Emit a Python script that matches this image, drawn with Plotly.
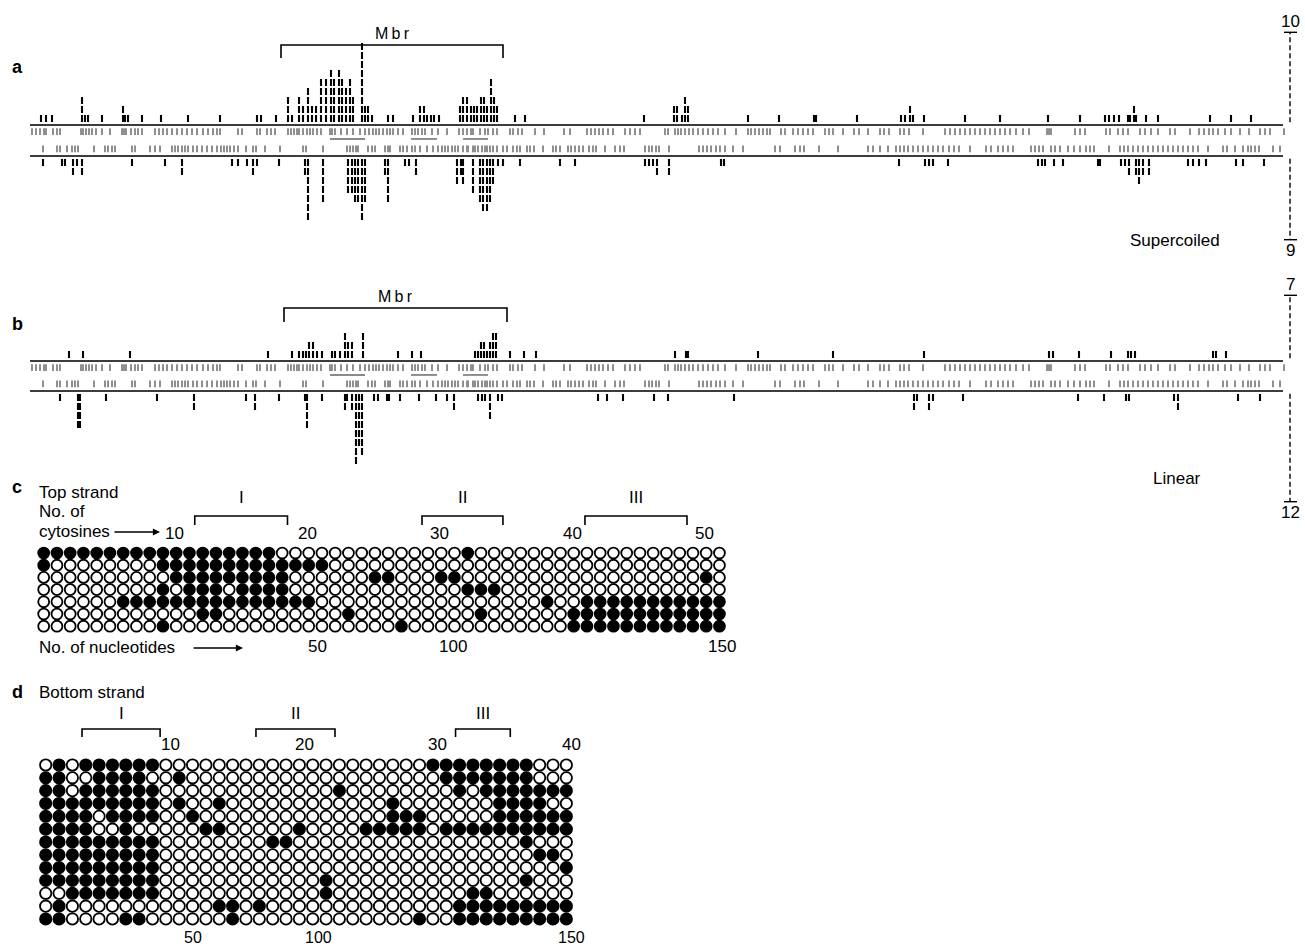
import plotly.graph_objects as go

W, H = 1305, 947
FONT = "Liberation Sans, Arial, Helvetica, sans-serif"

# ---------------- panels a / b : positions along the fragment ----------------
SEQ_LEN = 1253
MBR_A = [251, 473]
MBR_B = [254, 477]

# (position, number of molecules) - top strand hits (above line)
A_TOP = [(11, 1), (16, 1), (22, 1), (52, 3), (55, 1), (58, 1), (72, 1), (93, 2), (95, 1), (98, 1),
         (112, 1), (131, 1), (158, 1), (190, 1), (227, 1), (231, 1), (246, 1),
         (258, 3), (262, 1), (269, 3), (273, 2), (278, 4), (282, 2), (286, 2), (291, 5), (296, 5),
         (301, 6), (304, 5), (309, 6), (312, 5), (316, 4), (320, 5), (323, 3), (332, 9), (335, 2),
         (338, 2), (342, 1), (358, 1), (363, 1), (383, 1), (390, 2), (394, 2), (397, 1), (401, 1),
         (404, 1), (409, 1), (430, 2), (433, 3), (437, 3), (441, 2), (444, 2), (447, 2), (451, 3),
         (454, 3), (457, 2), (461, 5), (464, 3), (467, 2), (485, 1), (495, 1),
         (614, 1), (644, 2), (647, 2), (652, 1), (655, 3), (658, 2), (718, 1), (749, 1), (784, 1),
         (786, 1), (827, 1), (871, 1), (875, 1), (880, 2), (883, 1), (894, 1), (935, 1), (970, 1),
         (1018, 1), (1050, 1), (1075, 1), (1079, 1), (1084, 1), (1089, 1), (1098, 1), (1100, 1),
         (1104, 2), (1106, 1), (1116, 1), (1128, 1), (1180, 1), (1201, 1), (1221, 1)]
# bottom strand hits (below line)
A_BOT = [(13, 1), (32, 1), (35, 1), (43, 2), (47, 1), (52, 2), (102, 1), (135, 1), (152, 2), (202, 1),
         (208, 1), (217, 1), (223, 2), (227, 1), (249, 1), (275, 2), (278, 7), (293, 5), (318, 4),
         (322, 4), (325, 5), (328, 5), (332, 7), (335, 5), (355, 2), (358, 5), (375, 1), (379, 1),
         (386, 2), (427, 3), (431, 2), (433, 3), (443, 4), (450, 5), (453, 6), (457, 6), (460, 5),
         (463, 3), (468, 1), (473, 1), (490, 1),
         (530, 1), (545, 1), (615, 1), (619, 1), (623, 1), (627, 2), (639, 2), (691, 1), (694, 1),
         (869, 1), (895, 1), (899, 1), (903, 1), (918, 1), (1008, 1), (1012, 1), (1015, 1), (1024, 1),
         (1033, 1), (1068, 1), (1070, 1), (1091, 1), (1095, 1), (1099, 2), (1106, 2), (1109, 3),
         (1113, 2), (1119, 2), (1158, 1), (1163, 1), (1169, 1), (1176, 1), (1206, 1), (1213, 1), (1234, 1)]

B_TOP = [(39, 1), (53, 1), (100, 1), (238, 1), (262, 1), (269, 1), (273, 1), (276, 1), (279, 2), (283, 2),
         (287, 1), (292, 1), (302, 1), (305, 1), (310, 1), (315, 3), (318, 2), (322, 2), (333, 3),
         (368, 1), (382, 1), (391, 1), (445, 1), (448, 1), (451, 2), (454, 2), (457, 1), (460, 2),
         (463, 3), (466, 3), (480, 1), (494, 1), (506, 1),
         (645, 1), (656, 1), (658, 1), (728, 1), (803, 1), (894, 1), (1019, 1), (1023, 1), (1049, 1),
         (1081, 1), (1098, 1), (1101, 1), (1105, 1), (1183, 1), (1186, 1), (1196, 1)]
B_BOT = [(30, 1), (48, 4), (50, 4), (76, 1), (127, 1), (164, 2), (216, 1), (225, 2), (249, 1), (275, 1),
         (277, 4), (292, 1), (315, 2), (317, 1), (322, 2), (326, 8), (329, 6), (332, 7), (344, 1),
         (348, 1), (357, 1), (359, 1), (370, 1), (389, 1), (406, 1), (417, 1), (424, 2), (448, 1),
         (452, 1), (455, 1), (460, 3), (468, 1), (472, 1),
         (568, 1), (577, 1), (593, 1), (624, 1), (638, 1), (704, 1), (884, 2), (887, 1), (899, 2),
         (903, 1), (933, 1), (1048, 1), (1074, 1), (1096, 1), (1099, 1), (1144, 1), (1148, 2),
         (1208, 1), (1230, 1)]

# cytosine positions (grey ticks) - same fragment in a and b
CYT_TOP_STRAND = [2, 6, 10, 14, 16, 23, 27, 30, 51, 53, 56, 59, 62, 66, 72, 80, 92, 94, 96, 101, 105, 108,
                  112, 125, 129, 133, 137, 142, 147, 152, 157, 162, 167, 173, 178, 183, 187, 190, 208,
                  212, 227, 230, 237, 241, 245, 258, 261, 264, 267, 269, 273, 277, 280, 283, 287, 291,
                  300, 302, 305, 311, 317, 323, 330, 335, 339, 343, 346, 349, 353, 357, 360, 363, 368,
                  373, 382, 385, 388, 392, 395, 402, 408, 417, 429, 433, 437, 441, 443, 450, 455, 458,
                  463, 467, 480, 483, 488, 492, 505, 514, 534, 540, 557, 561, 565, 569, 573, 578, 583,
                  595, 600, 605, 610, 635, 638, 645, 648, 651, 655, 659, 663, 668, 673, 678, 683, 688,
                  695, 706, 718, 721, 725, 729, 733, 737, 740, 751, 755, 763, 768, 773, 778, 783, 795,
                  799, 803, 813, 824, 829, 838, 850, 854, 859, 870, 874, 879, 893, 915, 920, 925, 930,
                  935, 940, 945, 950, 955, 960, 965, 970, 975, 980, 986, 993, 999, 1017, 1019, 1021,
                  1045, 1050, 1055, 1076, 1080, 1088, 1093, 1098, 1110, 1115, 1121, 1128, 1140, 1145,
                  1160, 1169, 1174, 1179, 1183, 1188, 1195, 1201, 1210, 1219, 1230, 1235, 1240, 1254]
CYT_BOT_STRAND = [13, 27, 30, 37, 42, 45, 48, 64, 75, 78, 82, 85, 102, 105, 120, 125, 130, 142, 145, 148,
                  152, 155, 158, 163, 167, 172, 177, 182, 187, 191, 194, 197, 200, 204, 208, 216, 223,
                  226, 235, 250, 273, 276, 293, 317, 320, 323, 326, 328, 338, 342, 345, 355, 358, 360,
                  370, 373, 377, 382, 385, 390, 397, 403, 408, 412, 415, 418, 422, 425, 428, 433, 437,
                  438, 443, 445, 448, 452, 455, 457, 460, 463, 467, 473, 477, 483, 487, 490, 497, 500,
                  504, 513, 523, 526, 530, 538, 541, 545, 549, 553, 559, 563, 566, 575, 585, 590, 594,
                  615, 619, 622, 626, 629, 639, 669, 673, 677, 681, 686, 690, 695, 703, 713, 745, 750,
                  765, 770, 774, 789, 808, 838, 843, 850, 858, 866, 870, 874, 878, 883, 888, 893, 898,
                  903, 908, 913, 919, 924, 929, 940, 956, 961, 968, 973, 978, 983, 1001, 1005, 1009,
                  1013, 1021, 1025, 1030, 1038, 1044, 1050, 1056, 1060, 1064, 1079, 1090, 1094, 1098,
                  1103, 1108, 1113, 1118, 1123, 1128, 1133, 1138, 1143, 1148, 1153, 1158, 1163, 1168,
                  1178, 1193, 1197, 1205, 1213, 1218, 1221, 1225, 1229, 1243, 1250]
REGIONS_ABC = [(300, 335), (381, 407), (433, 458)]
SCALE_A = [10, 9]
SCALE_B = [7, 12]
SCALE_POS = 1260

# ---------------- panel c : top strand, 52 cytosines x 7 molecules ----------------
C_ROWS = [
    "1111111111 1111111100 0000000000 0010000000 0000000000 00",
    "1000000001 1111111111 1100000000 0000000000 0000000000 00",
    "0000000000 1111111110 0000011000 1100000000 0000000000 10",
    "0000000001 0111011110 0000000000 0011100000 0000000000 00",
    "0000001111 1111111111 1000000000 0000000010 0111111111 11",
    "0000000000 0011000000 0001000000 0001000000 1111111111 11",
    "0000000001 0000000000 0000000100 0000000000 1111111111 11",
]
C_CYT_TICKS = [10, 20, 30, 40, 50]
C_NT_TICKS = ["50", "100", "150"]
C_NT_AT = [21.7, 31.9, 52.2]          # cytosine index where the nucleotide count falls
C_REGIONS = [("I", 12.4, 19.4), ("II", 29.55, 35.66), ("III", 41.85, 49.55)]

# ---------------- panel d : bottom strand, 40 cytosines x 13 molecules ----------------
D_ROWS = [
    "0101111110 0000000000 0000000001 1111111000",
    "1100111100 1000000000 0000000000 1111111000",
    "1101111110 0000000000 0010000000 0101111111",
    "1111111110 1001000000 0000001000 0000111100",
    "1111011110 0100000000 0000001110 0000111111",
    "1111001000 0011000001 0000111110 1111111111",
    "1111111110 0000000110 0000000000 0000001000",
    "1111111110 0000000000 0000000000 0000000110",
    "1111111110 0000000000 0000000000 0000000001",
    "1111111110 0000000000 0100000000 0000001000",
    "0011111110 0000000000 0100000000 0011000000",
    "0100000000 0001101000 0000000000 0111111111",
    "1100001100 0000100000 0000000010 0111111111",
]
D_CYT_TICKS = [10, 20, 30, 40]
D_NT_TICKS = ["50", "100", "150"]
D_NT_AT = [12.03, 21.4, 40.4]
D_REGIONS = [("I", 3.72, 9.57), ("II", 16.75, 22.67), ("III", 31.7, 35.8)]

# ---------------- geometry (pixels of the page) ----------------
PXL = 9.0                       # px per molecule level
A_LINE, A_BASE = 125, 156       # top / bottom line pixel rows, panel a
B_LINE, B_BASE = 361, 391
C_PX0, C_DX, C_PY0, C_DY = 43.7, 13.25, 553, 12.2
D_PX0, D_DX, D_PY0, D_DY = 45.7, 13.35, 765, 12.83


def px(x):
    return x / W


def py(y):
    return 1 - y / H


fig = go.Figure()


def lines(x, y, color, width, xa, ya, dash=None):
    fig.add_trace(go.Scatter(x=x, y=y, mode="lines", xaxis=xa, yaxis=ya, hoverinfo="skip",
                             showlegend=False, cliponaxis=False,
                             line=dict(color=color, width=width, dash=dash)))


annotations = []


def text(t, x, y, xref="paper", yref="paper", size=17, xanchor="center", yanchor="middle",
         xshift=0, yshift=0, bold=False):
    annotations.append(dict(text=("<b>%s</b>" % t) if bold else t, x=x, y=y, xref=xref, yref=yref,
                            showarrow=False, xanchor=xanchor, yanchor=yanchor, xshift=xshift,
                            yshift=yshift, font=dict(family=FONT, size=size, color="black")))


def strand_panel(top, bot, line_px, base_px, xa, ya, mbr, mbr_top_px, mbr_low_px, scale):
    base = -(base_px - line_px) / PXL
    # grey cytosine ticks
    gx, gy = [], []
    for p in CYT_TOP_STRAND:
        gx += [p, p, None]
        gy += [-0.35, -1.1, None]
    for p in CYT_BOT_STRAND:
        gx += [p, p, None]
        gy += [base + 0.42, base + 1.17, None]
    for a, b in REGIONS_ABC:
        gx += [a, b, None]
        gy += [-1.55, -1.55, None]
    lines(gx, gy, "#8a8a8a", 1.9, xa, ya)
    # main strand lines
    lines([0, SEQ_LEN, None, 0, SEQ_LEN], [0, 0, None, base, base], "#3c3c3c", 2.2, xa, ya)
    # black ticks (stacked molecules)
    bx, by = [], []
    for p, n in top:
        for lv in range(n):
            y0 = 0.33 + lv
            bx += [p, p, None]
            by += [y0, y0 + 0.78, None]
    for p, n in bot:
        for lv in range(n):
            y0 = base - 0.33 - lv
            bx += [p, p, None]
            by += [y0, y0 - 0.78, None]
    lines(bx, by, "black", 2.1, xa, ya)
    # Mbr bracket
    yt = (line_px - mbr_top_px) / PXL
    yl = (line_px - mbr_low_px) / PXL
    lines([mbr[0], mbr[0], mbr[1], mbr[1]], [yl, yt, yt, yl], "black", 1.6, xa, ya)
    text("M\u2009b\u2009r", (mbr[0] + mbr[1]) / 2, yt, xref=xa, yref=ya, size=16, yanchor="bottom",
         yshift=1)
    # scale bars
    up, down = scale
    t0, t1 = 0.3, 0.3 + up
    b0, b1 = base - 0.3, base - 0.3 - down
    lines([SCALE_POS, SCALE_POS, None, SCALE_POS, SCALE_POS], [t0, t1, None, b0, b1], "black", 1.4,
          xa, ya, dash="5px,3px")
    lines([SCALE_POS - 6, SCALE_POS + 7, None, SCALE_POS - 6, SCALE_POS + 7], [t1, t1, None, b1, b1],
          "black", 1.4, xa, ya)
    text(str(up), SCALE_POS, t1, xref=xa, yref=ya, yanchor="bottom", yshift=-1)
    text(str(down), SCALE_POS, b1, xref=xa, yref=ya, yanchor="top", yshift=1)


strand_panel(A_TOP, A_BOT, A_LINE, A_BASE, "x", "y", MBR_A, 45, 58, SCALE_A)
strand_panel(B_TOP, B_BOT, B_LINE, B_BASE, "x2", "y2", MBR_B, 308, 322, SCALE_B)


def circle_panel(rows, xa, ya, size):
    xs, ys, cs = [], [], []
    for r, row in enumerate(rows, start=1):
        bits = row.replace(" ", "")
        for k, b in enumerate(bits, start=1):
            xs.append(k)
            ys.append(r)
            cs.append("black" if b == "1" else "white")
    fig.add_trace(go.Scatter(x=xs, y=ys, mode="markers", xaxis=xa, yaxis=ya, hoverinfo="skip",
                             showlegend=False, cliponaxis=False,
                             marker=dict(symbol="circle", size=size, color=cs,
                                         line=dict(color="black", width=1.8))))


circle_panel(C_ROWS, "x3", "y3", 10.9)
circle_panel(D_ROWS, "x4", "y4", 11.3)


def c_row(p):
    return 1 + (p - C_PY0) / C_DY


def d_row(p):
    return 1 + (p - D_PY0) / D_DY


def brackets(regions, xa, ya, y_line, y_tick, label_py):
    bx, by = [], []
    for name, a, b in regions:
        bx += [a, a, b, b, None]
        by += [y_tick, y_line, y_line, y_tick, None]
        text(name, (a + b) / 2, py(label_py), xref=xa, size=17)
    lines(bx, by, "black", 1.6, xa, ya)


brackets(C_REGIONS, "x3", "y3", c_row(516), c_row(525), 497)
brackets(D_REGIONS, "x4", "y4", d_row(729), d_row(737), 713)

for k in C_CYT_TICKS:
    text(str(k), k, py(533), xref="x3", xshift=12)
for lab, k in zip(C_NT_TICKS, C_NT_AT):
    text(lab, k, py(646), xref="x3")
for k in D_CYT_TICKS:
    text(str(k), k, py(744), xref="x4", xshift=5)
for lab, k in zip(D_NT_TICKS, D_NT_AT):
    text(lab, k, py(937), xref="x4", size=16)

# left-hand texts
text("Top strand", px(37), py(493), xanchor="left")
text("No. of", px(37), py(512), xanchor="left")
text("cytosines", px(37), py(531), xanchor="left")
text("No. of nucleotides", px(37), py(647), xanchor="left")
text("Bottom strand", px(37), py(692), xanchor="left")
text("Supercoiled", px(1175), py(240))
text("Linear", px(1177), py(478))
for lab, yy in [("a", 67), ("b", 324), ("c", 487), ("d", 692)]:
    text(lab, px(17), py(yy), size=18, bold=True)

for tail, tip, yy in [(113, 160, 532), (192, 243, 648)]:
    annotations.append(dict(x=px(tip), y=py(yy), xref="paper", yref="paper", text="", showarrow=True,
                            ax=tail - tip, ay=0, arrowhead=2, arrowsize=1.1, arrowwidth=1.3,
                            arrowcolor="black"))

axis_common = dict(visible=False, domain=[0, 1], fixedrange=True)
layout = dict(
    width=W, height=H, margin=dict(l=0, r=0, t=0, b=0),
    paper_bgcolor="white", plot_bgcolor="rgba(0,0,0,0)", showlegend=False, hovermode=False,
    annotations=annotations,
    xaxis=dict(range=[-30, W - 30], anchor="y", **axis_common),
    yaxis=dict(range=[(A_LINE - H) / PXL, A_LINE / PXL], anchor="x", **axis_common),
    xaxis2=dict(range=[-30, W - 30], anchor="y2", **axis_common),
    yaxis2=dict(range=[(B_LINE - H) / PXL, B_LINE / PXL], anchor="x2", **axis_common),
    xaxis3=dict(range=[1 - C_PX0 / C_DX, 1 + (W - C_PX0) / C_DX], anchor="y3", **axis_common),
    yaxis3=dict(range=[c_row(H), c_row(0)], anchor="x3", **axis_common),
    xaxis4=dict(range=[1 - D_PX0 / D_DX, 1 + (W - D_PX0) / D_DX], anchor="y4", **axis_common),
    yaxis4=dict(range=[d_row(H), d_row(0)], anchor="x4", **axis_common),
)
fig.update_layout(**layout)
fig.write_html("out.html", config={"displayModeBar": False},
               post_script="document.body.style.margin='0';")
